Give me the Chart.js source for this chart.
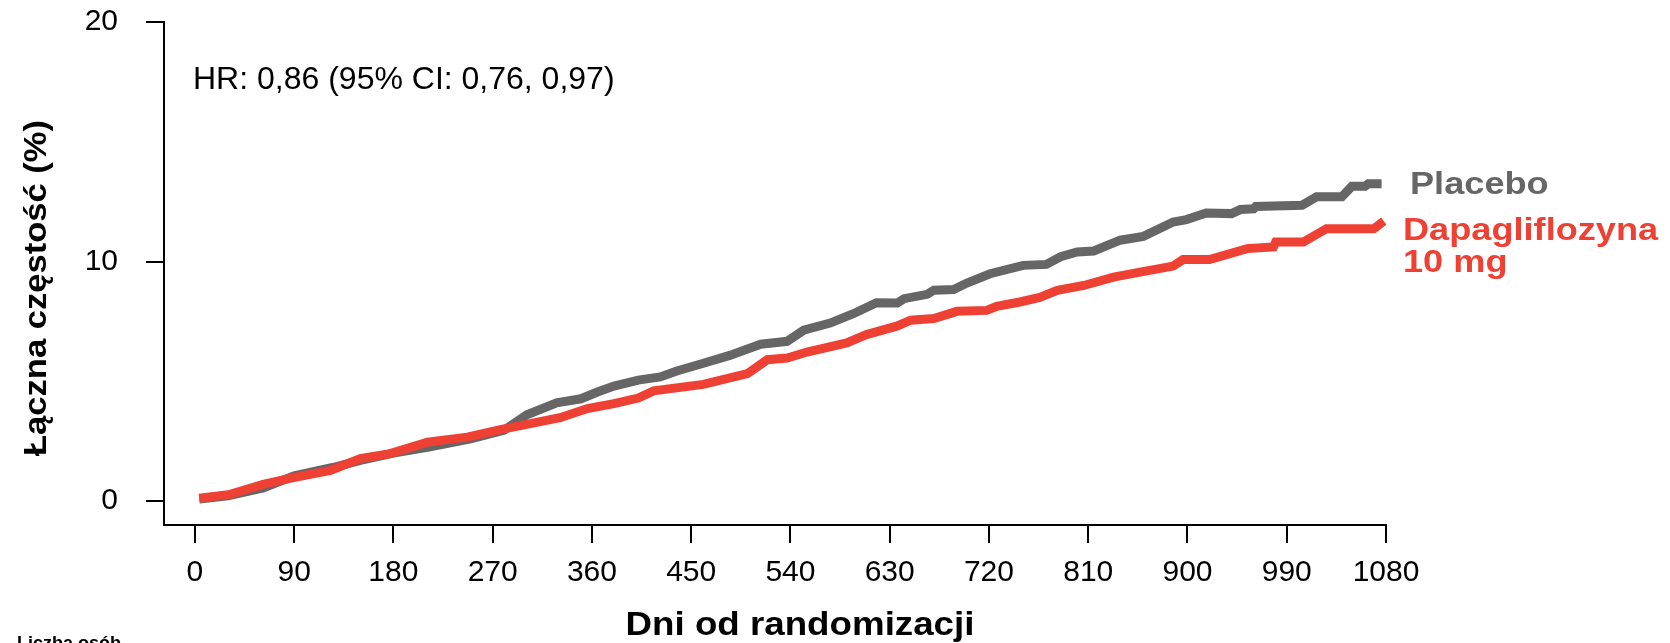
<!DOCTYPE html>
<html>
<head>
<meta charset="utf-8">
<script src="https://cdn.jsdelivr.net/npm/chart.js@4"></script>
<style>
  body { margin: 0; background: #fff; }
  #wrap { width: 1670px; height: 643px; }
</style>
</head>
<body>
<div id="wrap"><canvas id="kmChart"></canvas></div>
<script>
// cumulative incidence (days, %)
const placeboDays = [4, 30, 62, 90, 125, 150, 180, 212, 250, 280, 301, 328, 350, 365, 380, 402, 422, 437, 458, 485, 513, 537, 552, 576, 597, 618, 637, 643, 664, 670, 688, 700, 721, 751, 772, 785, 800, 815, 839, 860, 887, 899, 917, 940, 948, 960, 962, 1004, 1017, 1040, 1049, 1061, 1064, 1076];
const placeboValues = [0.08, 0.22, 0.55, 1.05, 1.4, 1.7, 2.0, 2.25, 2.6, 2.95, 3.6, 4.1, 4.27, 4.55, 4.8, 5.05, 5.18, 5.43, 5.71, 6.08, 6.55, 6.67, 7.13, 7.43, 7.82, 8.28, 8.27, 8.45, 8.63, 8.8, 8.83, 9.1, 9.49, 9.84, 9.88, 10.2, 10.4, 10.44, 10.89, 11.05, 11.65, 11.75, 12.03, 12.0, 12.17, 12.2, 12.3, 12.35, 12.7, 12.7, 13.14, 13.14, 13.25, 13.25];

const dapaDays = [4, 32, 62, 87, 123, 150, 177, 211, 247, 277, 331, 356, 380, 402, 416, 461, 501, 519, 537, 555, 591, 609, 637, 649, 670, 691, 718, 727, 748, 766, 782, 806, 833, 857, 887, 896, 920, 954, 978, 980, 1005, 1026, 1069, 1078];
const dapaValues = [0.12, 0.28, 0.7, 0.96, 1.28, 1.77, 1.98, 2.46, 2.67, 2.98, 3.48, 3.86, 4.07, 4.3, 4.6, 4.87, 5.32, 5.9, 5.97, 6.22, 6.6, 6.95, 7.31, 7.55, 7.62, 7.92, 7.96, 8.13, 8.31, 8.5, 8.8, 9.0, 9.35, 9.56, 9.81, 10.08, 10.08, 10.54, 10.61, 10.81, 10.81, 11.37, 11.37, 11.69];

const xTicks = [0, 90, 180, 270, 360, 450, 540, 630, 720, 810, 900, 990, 1080];
const yTicks = [0, 10, 20];

const GRAY = '#666666';
const RED = '#EE4133';
const FONT = "'Liberation Sans', Arial, Helvetica, sans-serif";

function toPoints(days, values) {
  return days.map((d, i) => ({ x: d, y: values[i] }));
}

// free text: titles, HR note, series labels
const textPlugin = {
  id: 'texts',
  afterDraw(chart) {
    const ctx = chart.ctx;
    function put(text, x, y, font, color, stretch, rotate, align) {
      ctx.save();
      ctx.translate(x, y);
      if (rotate) ctx.rotate(-Math.PI / 2);
      ctx.scale(stretch, 1);
      ctx.font = font;
      ctx.fillStyle = color;
      ctx.textAlign = align || 'left';
      ctx.textBaseline = 'alphabetic';
      ctx.fillText(text, 0, 0);
      ctx.restore();
    }
    put('HR: 0,86 (95% CI: 0,76, 0,97)', 193, 89, '32px ' + FONT, '#000', 1, false);
    put('Placebo', 1410, 194, 'bold 32px ' + FONT, GRAY, 1.13, false);
    put('Dapagliflozyna', 1403, 240, 'bold 32px ' + FONT, RED, 1.13, false);
    put('10 mg', 1403, 272, 'bold 32px ' + FONT, RED, 1.13, false);
    put('Dni od randomizacji', 800, 635, 'bold 34px ' + FONT, '#000', 1.08, false, 'center');
    put('Łączna częstość (%)', 46, 288, 'bold 32px ' + FONT, '#000', 1.08, true, 'center');
    put('Liczba osób', 17, 649, 'bold 18px ' + FONT, '#000', 1, false);
  }
};

const ctx = document.getElementById('kmChart').getContext('2d');
const chart = new Chart(ctx, {
  type: 'line',
  data: {
    datasets: [
      {
        label: 'Dapagliflozyna 10 mg',
        data: toPoints(dapaDays, dapaValues),
        borderColor: RED,
        borderWidth: 9,
        pointRadius: 0,
        tension: 0,
        fill: false
      },
      {
        label: 'Placebo',
        data: toPoints(placeboDays, placeboValues),
        borderColor: GRAY,
        borderWidth: 9,
        pointRadius: 0,
        tension: 0,
        fill: false
      }
    ]
  },
  options: {
    responsive: true,
    maintainAspectRatio: false,
    animation: false,
    layout: { padding: { left: 0, right: 284, top: 0, bottom: 0 } },
    plugins: {
      legend: { display: false },
      tooltip: { enabled: false }
    },
    scales: {
      x: {
        type: 'linear',
        min: -28,
        max: 1080,
        afterBuildTicks: scale => { scale.ticks = xTicks.map(v => ({ value: v })); },
        afterFit: scale => { scale.height = 118; },
        border: { display: true, color: '#000', width: 2 },
        grid: { drawOnChartArea: false, drawTicks: true, tickLength: 18, color: '#000', lineWidth: 2 },
        ticks: {
          color: '#000',
          padding: 12,
          maxRotation: 0,
          autoSkip: false,
          font: { family: FONT, size: 30 },
          callback: v => String(v)
        }
      },
      y: {
        min: -1,
        max: 20,
        afterBuildTicks: scale => { scale.ticks = yTicks.map(v => ({ value: v })); },
        afterFit: scale => {
          scale.width = 164;
          // the tick padding would otherwise push the plot top down
          scale.paddingTop = 22;
          scale.paddingBottom = 0;
        },
        border: { display: true, color: '#000', width: 2 },
        grid: { drawOnChartArea: false, drawTicks: true, tickLength: 18, color: '#000', lineWidth: 2 },
        ticks: {
          color: '#000',
          padding: 28,
          font: { family: FONT, size: 30 },
          callback: v => String(v)
        }
      }
    }
  },
  plugins: [textPlugin]
});
</script>
</body>
</html>
